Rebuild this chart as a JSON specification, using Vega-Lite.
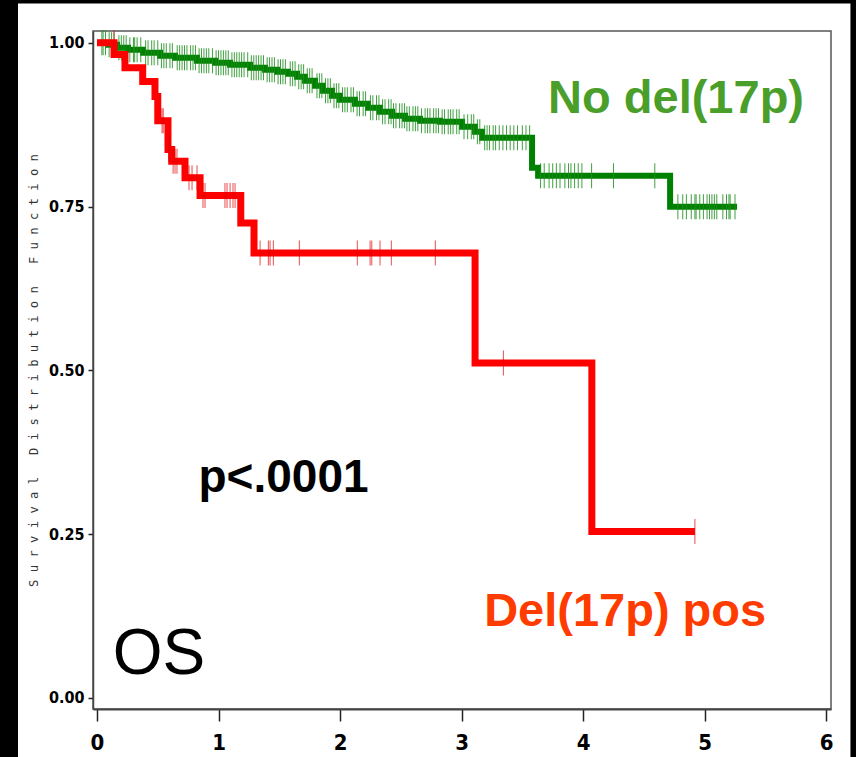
{
  "$schema": "https://vega.github.io/schema/vega-lite/v6.json",
  "autosize": "none",
  "width": 738,
  "height": 678,
  "padding": {"left": 93, "top": 31, "right": 25, "bottom": 48},
  "background": "black",
  "config": {
    "view": {"stroke": null},
    "axis": {"grid": false}
  },
  "datasets": {
    "one": [{"k": 1}],
    "red_curve": [
      {"t": 0, "s": 1.0}, {"t": 0.14, "s": 0.982}, {"t": 0.23, "s": 0.962}, {"t": 0.376, "s": 0.941},
      {"t": 0.477, "s": 0.918}, {"t": 0.50, "s": 0.881}, {"t": 0.584, "s": 0.837}, {"t": 0.615, "s": 0.819},
      {"t": 0.724, "s": 0.794}, {"t": 0.848, "s": 0.767}, {"t": 1.183, "s": 0.725}, {"t": 1.292, "s": 0.679},
      {"t": 3.111, "s": 0.511}, {"t": 4.072, "s": 0.254}, {"t": 4.92, "s": 0.254}
    ],
    "red_cens": [
      {"t": 0.14, "s": 1.0}, {"t": 0.535, "s": 0.881}, {"t": 0.545, "s": 0.881}, {"t": 0.59, "s": 0.837}, {"t": 0.60, "s": 0.837},
      {"t": 0.626, "s": 0.819}, {"t": 0.642, "s": 0.819}, {"t": 0.658, "s": 0.819},
      {"t": 0.757, "s": 0.794}, {"t": 0.782, "s": 0.794}, {"t": 0.823, "s": 0.794},
      {"t": 0.872, "s": 0.767}, {"t": 0.889, "s": 0.767}, {"t": 1.053, "s": 0.767}, {"t": 1.070, "s": 0.767}, {"t": 1.095, "s": 0.767}, {"t": 1.119, "s": 0.767}, {"t": 1.136, "s": 0.767},
      {"t": 1.342, "s": 0.679}, {"t": 1.410, "s": 0.679}, {"t": 1.424, "s": 0.679}, {"t": 1.451, "s": 0.679}, {"t": 1.665, "s": 0.679}, {"t": 2.142, "s": 0.679}, {"t": 2.247, "s": 0.679}, {"t": 2.261, "s": 0.679}, {"t": 2.329, "s": 0.679}, {"t": 2.422, "s": 0.679}, {"t": 2.784, "s": 0.679},
      {"t": 3.344, "s": 0.511}, {"t": 4.92, "s": 0.254}
    ],
    "green_curve": [
      {"t": 0, "s": 1.0}, {"t": 0.091, "s": 0.9969}, {"t": 0.165, "s": 0.9924}, {"t": 0.255, "s": 0.9893},
      {"t": 0.379, "s": 0.9847}, {"t": 0.519, "s": 0.9802}, {"t": 0.642, "s": 0.9771}, {"t": 0.823, "s": 0.9725},
      {"t": 0.971, "s": 0.9695}, {"t": 1.095, "s": 0.9664}, {"t": 1.259, "s": 0.9618}, {"t": 1.383, "s": 0.9588},
      {"t": 1.481, "s": 0.9557}, {"t": 1.572, "s": 0.9527}, {"t": 1.646, "s": 0.9481}, {"t": 1.712, "s": 0.9420},
      {"t": 1.794, "s": 0.9344}, {"t": 1.860, "s": 0.9267}, {"t": 1.934, "s": 0.9191}, {"t": 2.000, "s": 0.9130},
      {"t": 2.123, "s": 0.9069}, {"t": 2.230, "s": 0.9008}, {"t": 2.329, "s": 0.8947}, {"t": 2.428, "s": 0.8885},
      {"t": 2.535, "s": 0.8840}, {"t": 2.658, "s": 0.8809}, {"t": 2.823, "s": 0.8794}, {"t": 3.004, "s": 0.8718},
      {"t": 3.111, "s": 0.8641}, {"t": 3.169, "s": 0.8550}, {"t": 3.580, "s": 0.8092}, {"t": 3.630, "s": 0.7969},
      {"t": 4.716, "s": 0.7496}, {"t": 5.267, "s": 0.7496}
    ],
    "green_cens": [
      {"t": 0.04, "s": 1.0}, {"t": 0.05, "s": 1.0}, {"t": 0.07, "s": 1.0},
      {"t": 0.10, "s": 0.9969}, {"t": 0.12, "s": 0.9969}, {"t": 0.14, "s": 0.9969},
      {"t": 0.18, "s": 0.9924}, {"t": 0.20, "s": 0.9924}, {"t": 0.22, "s": 0.9924}, {"t": 0.24, "s": 0.9924},
      {"t": 0.27, "s": 0.9893}, {"t": 0.30, "s": 0.9893}, {"t": 0.31, "s": 0.9893}, {"t": 0.33, "s": 0.9893}, {"t": 0.36, "s": 0.9893},
      {"t": 0.40, "s": 0.9847}, {"t": 0.42, "s": 0.9847}, {"t": 0.45, "s": 0.9847}, {"t": 0.47, "s": 0.9847}, {"t": 0.50, "s": 0.9847},
      {"t": 0.53, "s": 0.9802}, {"t": 0.55, "s": 0.9802}, {"t": 0.57, "s": 0.9802}, {"t": 0.60, "s": 0.9802}, {"t": 0.62, "s": 0.9802},
      {"t": 0.66, "s": 0.9771}, {"t": 0.68, "s": 0.9771}, {"t": 0.70, "s": 0.9771}, {"t": 0.72, "s": 0.9771}, {"t": 0.74, "s": 0.9771}, {"t": 0.77, "s": 0.9771}, {"t": 0.79, "s": 0.9771}, {"t": 0.81, "s": 0.9771},
      {"t": 0.84, "s": 0.9725}, {"t": 0.86, "s": 0.9725}, {"t": 0.88, "s": 0.9725}, {"t": 0.90, "s": 0.9725}, {"t": 0.92, "s": 0.9725}, {"t": 0.95, "s": 0.9725},
      {"t": 0.98, "s": 0.9695}, {"t": 1.00, "s": 0.9695}, {"t": 1.02, "s": 0.9695}, {"t": 1.04, "s": 0.9695}, {"t": 1.06, "s": 0.9695}, {"t": 1.08, "s": 0.9695},
      {"t": 1.11, "s": 0.9664}, {"t": 1.13, "s": 0.9664}, {"t": 1.15, "s": 0.9664}, {"t": 1.17, "s": 0.9664}, {"t": 1.19, "s": 0.9664}, {"t": 1.21, "s": 0.9664}, {"t": 1.24, "s": 0.9664},
      {"t": 1.27, "s": 0.9618}, {"t": 1.29, "s": 0.9618}, {"t": 1.31, "s": 0.9618}, {"t": 1.33, "s": 0.9618}, {"t": 1.35, "s": 0.9618}, {"t": 1.37, "s": 0.9618},
      {"t": 1.40, "s": 0.9588}, {"t": 1.42, "s": 0.9588}, {"t": 1.44, "s": 0.9588}, {"t": 1.46, "s": 0.9588},
      {"t": 1.49, "s": 0.9557}, {"t": 1.51, "s": 0.9557}, {"t": 1.53, "s": 0.9557}, {"t": 1.55, "s": 0.9557},
      {"t": 1.59, "s": 0.9527}, {"t": 1.61, "s": 0.9527}, {"t": 1.63, "s": 0.9527},
      {"t": 1.66, "s": 0.9481}, {"t": 1.68, "s": 0.9481}, {"t": 1.70, "s": 0.9481},
      {"t": 1.73, "s": 0.9420}, {"t": 1.75, "s": 0.9420}, {"t": 1.77, "s": 0.9420},
      {"t": 1.81, "s": 0.9344}, {"t": 1.83, "s": 0.9344}, {"t": 1.85, "s": 0.9344},
      {"t": 1.88, "s": 0.9267}, {"t": 1.90, "s": 0.9267}, {"t": 1.92, "s": 0.9267},
      {"t": 1.95, "s": 0.9191}, {"t": 1.97, "s": 0.9191}, {"t": 1.99, "s": 0.9191},
      {"t": 2.02, "s": 0.9130}, {"t": 2.04, "s": 0.9130}, {"t": 2.06, "s": 0.9130}, {"t": 2.09, "s": 0.9130}, {"t": 2.11, "s": 0.9130},
      {"t": 2.14, "s": 0.9069}, {"t": 2.16, "s": 0.9069}, {"t": 2.19, "s": 0.9069}, {"t": 2.21, "s": 0.9069},
      {"t": 2.25, "s": 0.9008}, {"t": 2.27, "s": 0.9008}, {"t": 2.30, "s": 0.9008}, {"t": 2.32, "s": 0.9008},
      {"t": 2.35, "s": 0.8947}, {"t": 2.37, "s": 0.8947}, {"t": 2.40, "s": 0.8947}, {"t": 2.42, "s": 0.8947},
      {"t": 2.44, "s": 0.8885}, {"t": 2.46, "s": 0.8885}, {"t": 2.49, "s": 0.8885}, {"t": 2.51, "s": 0.8885}, {"t": 2.53, "s": 0.8885},
      {"t": 2.55, "s": 0.8840}, {"t": 2.57, "s": 0.8840}, {"t": 2.60, "s": 0.8840}, {"t": 2.62, "s": 0.8840}, {"t": 2.64, "s": 0.8840},
      {"t": 2.67, "s": 0.8809}, {"t": 2.70, "s": 0.8809}, {"t": 2.72, "s": 0.8809}, {"t": 2.74, "s": 0.8809}, {"t": 2.77, "s": 0.8809}, {"t": 2.79, "s": 0.8809}, {"t": 2.81, "s": 0.8809},
      {"t": 2.84, "s": 0.8794}, {"t": 2.86, "s": 0.8794}, {"t": 2.89, "s": 0.8794}, {"t": 2.91, "s": 0.8794}, {"t": 2.93, "s": 0.8794}, {"t": 2.96, "s": 0.8794}, {"t": 2.98, "s": 0.8794},
      {"t": 3.02, "s": 0.8718}, {"t": 3.05, "s": 0.8718}, {"t": 3.08, "s": 0.8718}, {"t": 3.10, "s": 0.8718},
      {"t": 3.13, "s": 0.8641}, {"t": 3.15, "s": 0.8641},
      {"t": 3.19, "s": 0.8550}, {"t": 3.21, "s": 0.8550}, {"t": 3.23, "s": 0.8550}, {"t": 3.26, "s": 0.8550}, {"t": 3.28, "s": 0.8550}, {"t": 3.31, "s": 0.8550}, {"t": 3.34, "s": 0.8550}, {"t": 3.37, "s": 0.8550}, {"t": 3.40, "s": 0.8550}, {"t": 3.43, "s": 0.8550}, {"t": 3.46, "s": 0.8550}, {"t": 3.50, "s": 0.8550}, {"t": 3.53, "s": 0.8550}, {"t": 3.56, "s": 0.8550},
      {"t": 3.65, "s": 0.7969}, {"t": 3.68, "s": 0.7969}, {"t": 3.72, "s": 0.7969}, {"t": 3.75, "s": 0.7969}, {"t": 3.78, "s": 0.7969}, {"t": 3.81, "s": 0.7969}, {"t": 3.85, "s": 0.7969}, {"t": 3.88, "s": 0.7969}, {"t": 3.90, "s": 0.7969}, {"t": 3.93, "s": 0.7969}, {"t": 3.96, "s": 0.7969}, {"t": 3.99, "s": 0.7969}, {"t": 4.07, "s": 0.7969}, {"t": 4.25, "s": 0.7969}, {"t": 4.59, "s": 0.7969},
      {"t": 4.78, "s": 0.7496}, {"t": 4.82, "s": 0.7496}, {"t": 4.85, "s": 0.7496}, {"t": 4.89, "s": 0.7496}, {"t": 4.92, "s": 0.7496}, {"t": 4.93, "s": 0.7496}, {"t": 4.96, "s": 0.7496}, {"t": 4.99, "s": 0.7496}, {"t": 5.02, "s": 0.7496}, {"t": 5.04, "s": 0.7496}, {"t": 5.06, "s": 0.7496}, {"t": 5.08, "s": 0.7496}, {"t": 5.10, "s": 0.7496}, {"t": 5.15, "s": 0.7496}, {"t": 5.18, "s": 0.7496}, {"t": 5.20, "s": 0.7496}, {"t": 5.21, "s": 0.7496}, {"t": 5.25, "s": 0.7496}
    ]
  },
  "layer": [
    {
      "data": {"name": "one"},
      "mark": {"type": "rect", "color": "white", "clip": false},
      "encoding": {
        "x": {"datum": -0.65, "type": "quantitative", "scale": {"domain": [-0.033, 6.04], "nice": false, "zero": false},
          "axis": {"zindex": 1, "values": [0, 1, 2, 3, 4, 5, 6], "format": "d", "title": null, "domainColor": "#444", "domainWidth": 2, "tickColor": "#222", "tickSize": 12, "tickWidth": 1.5, "labelPadding": 11, "labelFont": "'Liberation Sans Narrow', 'DejaVu Sans Condensed', 'Liberation Sans', sans-serif", "labelFontWeight": "bold", "labelFontSize": 22, "labelColor": "black"}},
        "x2": {"datum": 6.2},
        "y": {"datum": 1.06, "type": "quantitative", "scale": {"domain": [-0.017, 1.018], "nice": false, "zero": false},
          "axis": {"zindex": 1, "values": [0, 0.25, 0.5, 0.75, 1], "format": ".2f", "title": "S u r v i v a l\u00a0\u00a0\u00a0D i s t r i b u t i o n\u00a0\u00a0\u00a0F u n c t i o n", "titleFont": "DejaVu Sans Mono", "titleFontWeight": "normal", "titleFontSize": 12.2, "titleColor": "#333", "titlePadding": 8, "domainColor": "#444", "domainWidth": 1.5, "tickColor": "#222", "tickSize": 5, "tickWidth": 1.5, "labelPadding": 4, "labelFont": "'Liberation Sans Narrow', 'DejaVu Sans Condensed', 'Liberation Sans', sans-serif", "labelFontWeight": "bold", "labelFontSize": 16, "labelColor": "black"}},
        "y2": {"datum": -0.1}
      }
    },
    {
      "data": {"name": "one"},
      "mark": {"type": "rect", "fill": null, "fillOpacity": 0, "stroke": "#555", "strokeWidth": 1.5, "clip": false},
      "encoding": {"x": {"datum": -0.033}, "x2": {"datum": 6.04}, "y": {"datum": 1.018}, "y2": {"datum": -0.017}}
    },
    {
      "data": {"name": "green_curve"},
      "mark": {"type": "line", "interpolate": "step-after", "color": "#008000", "strokeWidth": 6},
      "encoding": {"x": {"field": "t", "type": "quantitative"}, "y": {"field": "s", "type": "quantitative"}}
    },
    {
      "data": {"name": "green_cens"},
      "mark": {"type": "tick", "orient": "vertical", "size": 25, "thickness": 1, "color": "#1f8f1f", "opacity": 0.85},
      "encoding": {"x": {"field": "t", "type": "quantitative"}, "y": {"field": "s", "type": "quantitative"}}
    },
    {
      "data": {"name": "red_curve"},
      "mark": {"type": "line", "interpolate": "step-after", "color": "#ff0000", "strokeWidth": 7},
      "encoding": {"x": {"field": "t", "type": "quantitative"}, "y": {"field": "s", "type": "quantitative"}}
    },
    {
      "data": {"name": "red_cens"},
      "mark": {"type": "tick", "orient": "vertical", "size": 25, "thickness": 1, "color": "#e00000"},
      "encoding": {"x": {"field": "t", "type": "quantitative"}, "y": {"field": "s", "type": "quantitative"}}
    },
    {
      "data": {"name": "one"},
      "mark": {"type": "text", "text": "No del(17p)", "font": "Liberation Sans", "fontWeight": "bold", "fontSize": 47, "color": "#4a9e2a", "align": "center", "baseline": "alphabetic"},
      "encoding": {"x": {"datum": 4.765}, "y": {"datum": 0.893}}
    },
    {
      "data": {"name": "one"},
      "mark": {"type": "text", "text": "Del(17p) pos", "font": "Liberation Sans", "fontWeight": "bold", "fontSize": 47, "color": "#ff3c00", "align": "center", "baseline": "alphabetic"},
      "encoding": {"x": {"datum": 4.346}, "y": {"datum": 0.110}}
    },
    {
      "data": {"name": "one"},
      "mark": {"type": "text", "text": "p<.0001", "font": "Liberation Sans", "fontWeight": "bold", "fontSize": 46, "color": "black", "align": "center", "baseline": "alphabetic"},
      "encoding": {"x": {"datum": 1.535}, "y": {"datum": 0.3145}}
    },
    {
      "data": {"name": "one"},
      "mark": {"type": "text", "text": "OS", "font": "Liberation Sans", "fontWeight": "normal", "fontSize": 64, "color": "black", "align": "center", "baseline": "alphabetic"},
      "encoding": {"x": {"datum": 0.51}, "y": {"datum": 0.0366}}
    }
  ]
}
